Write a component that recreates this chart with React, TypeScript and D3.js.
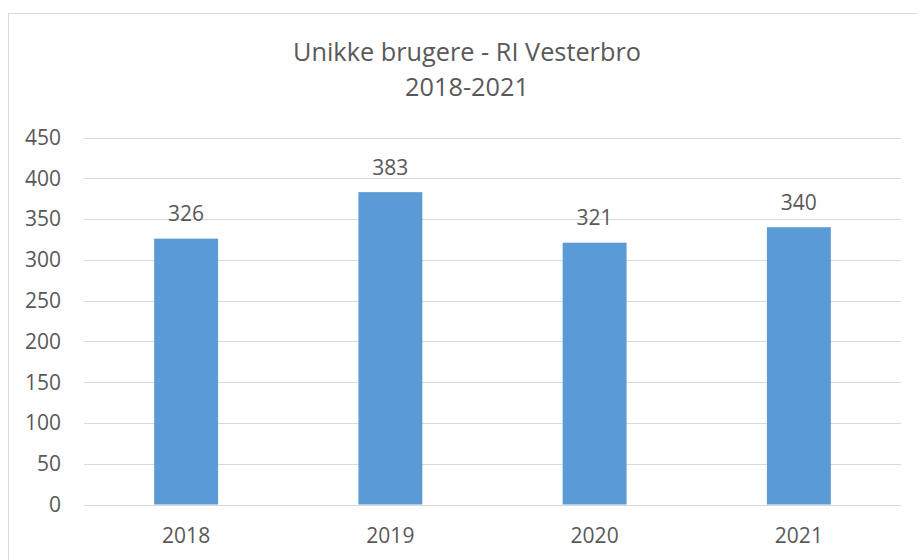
import React from "react";
import * as d3 from "d3";

const categories = ["2018", "2019", "2020", "2021"];
const values = [326, 383, 321, 340];
const yTicks = [0, 50, 100, 150, 200, 250, 300, 350, 400, 450];
const titleLines = ["Unikke brugere - RI Vesterbro", "2018-2021"];

const W = 917;
const H = 560;
const FONT = "'Open Sans', sans-serif";
const TEXT = "#595959";
const GRID = "#d9d9d9";
const BAR = "#5b9bd5";

export default function App() {
  const x = d3
    .scaleBand<string>()
    .domain(categories)
    .range([84, 901])
    .paddingInner(0.687)
    .paddingOuter(0.3435);
  const y = d3.scaleLinear().domain([0, 450]).range([504.5, 137.5]);

  return (
    <svg
      width={W}
      height={H}
      style={{ position: "absolute", left: 0, top: 0, background: "#fff" }}
    >
      <rect x={0} y={0} width={W} height={H} fill="#fff" />
      <rect x={8.5} y={13.5} width={1200} height={1200} fill="none" stroke={GRID} strokeWidth={1} />
      {titleLines.map((t, i) => (
        <text
          key={t}
          x={467}
          y={61 + i * 35}
          textAnchor="middle"
          fontFamily={FONT}
          fontSize={25.3}
          fill={TEXT}
        >
          {t}
        </text>
      ))}
      {yTicks.map((v) => (
        <g key={v}>
          <line x1={84} x2={901} y1={Math.round(y(v)) + 0.5} y2={Math.round(y(v)) + 0.5} stroke={GRID} strokeWidth={1} />
          <text
            x={61}
            y={y(v)}
            dy="0.35em"
            textAnchor="end"
            fontFamily={FONT}
            fontSize={21}
            fill={TEXT}
          >
            {v}
          </text>
        </g>
      ))}
      {categories.map((c, i) => (
        <g key={c}>
          <rect
            x={x(c)}
            y={y(values[i])}
            width={x.bandwidth()}
            height={y(0) - y(values[i])}
            fill={BAR}
          />
          <text
            x={(x(c) as number) + x.bandwidth() / 2}
            y={y(values[i]) - 17.5}
            textAnchor="middle"
            fontFamily={FONT}
            fontSize={21}
            fill={TEXT}
          >
            {values[i]}
          </text>
          <text
            x={(x(c) as number) + x.bandwidth() / 2}
            y={543}
            textAnchor="middle"
            fontFamily={FONT}
            fontSize={21}
            fill={TEXT}
          >
            {c}
          </text>
        </g>
      ))}
    </svg>
  );
}
